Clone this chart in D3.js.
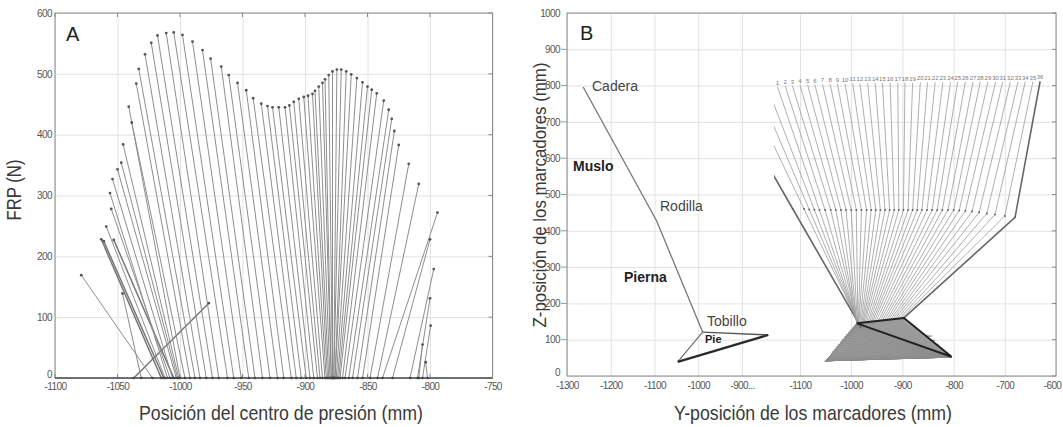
<!DOCTYPE html>
<html>
<head>
<meta charset="utf-8">
<script src="https://cdn.jsdelivr.net/npm/d3@7"></script>
<style>
  body { margin: 0; background: #fff; }
  text { font-family: 'Liberation Sans', Arial, sans-serif; }
  .tick text { font-size: 10px; fill: #555; letter-spacing: -0.6px; font-family: 'Liberation Sans', Arial, sans-serif; }
  .tick line { stroke: #e2e2e2; }
  .title { font-size: 21px; fill: #3a3a3a; }
  .frame { fill: none; stroke: #8a8a8a; stroke-width: 1; }
  .lbl { font-size: 14px; fill: #444; }
  .lbl-b { font-size: 14px; fill: #222; font-weight: bold; }
</style>
</head>
<body>
<script>
// ---- panel A : force vectors (centre of pressure -> FRP)
let copX = [-1037, -1022, -1015, -1013, -1012, -1005, -1008, -1010, -1006, -1003, -1002, -1001, -1031,
  -1000, -996, -992, -988, -984, -979, -974, -969, -962, -957, -951, -945, -940, -934, -928, -922, -917, -911,
  -907, -903, -899, -896, -893, -890, -888, -886, -884, -883, -882, -881, -880, -879, -879, -878, -878,
  -877, -877, -876, -876, -875, -874, -873, -872, -870, -868, -865, -862, -858, -854, -848, -842, -838,
  -830, -816, -810, -806, -809, -802]
let topX = [-977, -1079, -1063, -1061, -1059, -1053, -1055, -1056, -1054, -1050, -1047, -1045.5, -1046,
  -1041, -1038.6, -1035, -1033, -1028, -1023, -1018, -1011, -1005, -998, -990, -982, -975.5, -967, -961,
  -954, -947, -941.5, -935, -930, -926, -921, -916, -912.5, -909, -905, -901, -897.6, -894, -892, -889,
  -886, -884, -881, -878, -874.5, -871, -867, -863, -858.5, -854, -850, -846.6, -842.6, -837, -833,
  -830.6, -828.5, -825, -817, -809, -794, -800, -797, -800, -799.5, -806, -803.5]
let frp = [123, 169, 228, 225, 249, 227, 278, 304, 327, 343, 354, 384, 139, 446, 420, 484, 508, 532, 551,
  563, 567, 568, 564, 553, 539, 525, 512, 498, 485, 473, 460, 451, 447, 445, 445, 445, 448, 454, 459, 462,
  464, 467, 472, 479, 485, 491, 498, 504, 507, 507, 504, 499, 493, 486, 479, 474, 468, 456, 441, 426, 406,
  383, 352, 319, 272, 228, 179, 131, 86, 55, 26]

let aXTicks = [-1100, -1050, -1000, -950, -900, -850, -800, -750]
let aYTicks = [0, 100, 200, 300, 400, 500, 600]

// ---- panel B : reference stick figure (cadera, rodilla, tobillo) and foot
let stickY = [-1263, -1095, -990]
let stickZ = [796, 427, 121]
let footY = [-990, -840, -1047]
let footZ = [121, 113, 39]

// ---- panel B : leg frames over the stance phase
let hipY = [-1252, -1207, -1185, -1165, -1144, -1129, -1115, -1100, -1085, -1071, -1056, -1041, -1027,
  -1012, -997, -983, -968, -953, -939, -924, -909, -895, -880, -865, -851, -836, -821, -806, -792, -777,
  -762, -748, -733, -718, -704, -689, -674, -660, -645, -631]
let hipZ = [800, 800, 800, 800, 797, 799, 800, 801, 802, 803, 804, 804, 805, 805, 806, 806, 807, 807, 807,
  808, 808, 808, 808, 809, 809, 809, 809, 809, 810, 810, 810, 810, 810, 810, 811, 811, 811, 811, 811, 812]
let kneeY = [-1114, -1092, -1082, -1072, -1062, -1051, -1040, -1030, -1020, -1010, -1000, -990, -980, -970,
  -961, -952, -943, -934, -925, -916, -907, -898, -889, -880, -871, -862, -852, -842, -832, -822, -811,
  -800, -789, -777, -764, -750, -735, -719, -700, -680]
let kneeZ = [460, 460, 459, 458, 457, 457, 457, 457, 457, 457, 457, 457, 457, 457, 457, 457, 457, 457, 457,
  457, 457, 457, 457, 457, 457, 457, 457, 457, 457, 457, 457, 457, 456, 455, 453, 451, 448, 445, 441, 437]
let ankleY = [-980, -983, -985, -986, -987, -988, -988, -989, -989, -989, -988, -987, -986, -985, -983,
  -981, -979, -977, -975, -973, -970, -967, -964, -961, -958, -955, -951, -947, -943, -939, -935, -931,
  -927, -923, -919, -915, -911, -906, -902, -897]
let ankleZ = [132, 137, 140, 142, 143, 144, 145, 145, 145, 145, 145, 146, 146, 146, 147, 147, 147, 148, 148,
  148, 149, 149, 150, 150, 151, 151, 152, 152, 153, 153, 154, 154, 155, 155, 156, 157, 157, 158, 159, 160]
let heelY = [-1052, -1051, -1050, -1050, -1049, -1049, -1048, -1048, -1048, -1048, -1048, -1048, -1048,
  -1048, -1048, -1048, -1048, -1048, -1048, -1048, -1047, -1047, -1046, -1045, -1044, -1042, -1040, -1037,
  -1034, -1030, -1026, -1022, -1018, -1014, -1010, -1006, -1002, -998, -994, -989]
let heelZ = [40, 40, 41, 41, 41, 41, 42, 42, 42, 42, 42, 42, 42, 42, 42, 42, 42, 42, 42, 42, 43, 44, 46, 48,
  51, 55, 60, 66, 72, 79, 86, 93, 100, 107, 114, 120, 126, 132, 138, 145]
let toeY = [-842, -836, -829, -822, -816, -812, -810, -809, -808, -808, -807, -807, -807, -806, -806, -806,
  -806, -806, -806, -806, -805, -805, -805, -805, -805, -805, -805, -805, -805, -804, -804, -804, -804,
  -804, -804, -804, -804, -804, -804, -804]
let toeZ = [110, 98, 86, 75, 66, 60, 56, 54, 53, 52, 52, 52, 52, 52, 52, 52, 52, 52, 52, 52, 52, 52, 52, 52,
  52, 52, 52, 52, 52, 52, 53, 53, 53, 53, 53, 53, 53, 53, 53, 53]

let bZTicks = [0, 100, 200, 300, 400, 500, 600, 700, 800, 900, 1000]
let bLeftTicks = [-1300, -1200, -1100, -1000, -900]
let bLeftLabels = ['-1300', '-1200', '-1100', '-1000', '-900...']
let bRightTicks = [-1100, -1000, -900, -800, -700, -600]

let svg = d3.select('body').append('svg')
    .attr('width', 1063)
    .attr('height', 427)

//scales
let xA = d3.scaleLinear().domain([-1100, -750]).range([55, 492.5])
let yA = d3.scaleLinear().domain([0, 600]).range([378, 13])
let zB = d3.scaleLinear().domain([0, 1000]).range([376, 13])
let yBL = d3.scaleLinear().domain([-1300, -900]).range([567, 742])
let yBR = d3.scaleLinear().domain([-1100, -600]).range([800, 1056])

let fmt = d => String(d)

//grid + tick labels, matlab style
function styleAxis(g) {
  g.select('.domain').remove()
}
svg.append('g').attr('transform', 'translate(0,378)')
    .call(d3.axisBottom(xA).tickValues(aXTicks).tickSize(-365).tickPadding(5).tickFormat(fmt))
    .call(styleAxis)
svg.append('g').attr('class', 'ay').attr('transform', 'translate(55,0)')
    .call(d3.axisLeft(yA).tickValues(aYTicks).tickSize(-437.5).tickPadding(3).tickFormat(fmt))
    .call(styleAxis)

svg.append('g').attr('transform', 'translate(0,376)')
    .call(d3.axisBottom(yBL).tickValues(bLeftTicks).tickSize(-363).tickPadding(6)
      .tickFormat((d, i) => bLeftLabels[i]))
    .call(styleAxis)
svg.append('g').attr('class', 'bx').attr('transform', 'translate(0,376)')
    .call(d3.axisBottom(yBR).tickValues(bRightTicks).tickSize(-363).tickPadding(6).tickFormat(fmt))
    .call(styleAxis)
svg.append('g').attr('class', 'bz').attr('transform', 'translate(567,0)')
    .call(d3.axisLeft(zB).tickValues(bZTicks).tickSize(-489).tickPadding(7).tickFormat(fmt))
    .call(styleAxis)

svg.selectAll('.tick text').style('font-size', '10px').style('fill', '#555')
//"0" sits a little above the corner, last label kept inside the page
svg.selectAll('.ay .tick text').filter(d => d === 0).attr('dy', '-0.1em')
svg.selectAll('.bz .tick text').filter(d => d === 0).attr('dy', '-0.1em')
svg.selectAll('.bx .tick text').filter(d => d === -600).attr('x', -4)

//small outward ticks next to B's z labels
svg.append('g').selectAll('line').data(bZTicks.slice(1, -1)).enter().append('line')
    .attr('x1', 561).attr('x2', 567)
    .attr('y1', d => zB(d)).attr('y2', d => zB(d))
    .attr('stroke', '#999')

//inner tick marks on frames
let tickMarks = svg.append('g').attr('stroke', '#888')
aXTicks.forEach(d => {
  tickMarks.append('line').attr('x1', xA(d)).attr('x2', xA(d)).attr('y1', 13).attr('y2', 17)
  tickMarks.append('line').attr('x1', xA(d)).attr('x2', xA(d)).attr('y1', 378).attr('y2', 374)
})
aYTicks.forEach(d => {
  tickMarks.append('line').attr('x1', 492.5).attr('x2', 488.5).attr('y1', yA(d)).attr('y2', yA(d))
})
bZTicks.forEach(d => {
  tickMarks.append('line').attr('x1', 1056).attr('x2', 1052).attr('y1', zB(d)).attr('y2', zB(d))
})

//frames
svg.append('rect').attr('class', 'frame').attr('x', 55).attr('y', 13).attr('width', 437.5).attr('height', 365)
svg.append('rect').attr('class', 'frame').attr('x', 567).attr('y', 13).attr('width', 489).attr('height', 363)
svg.append('line').attr('x1', 55).attr('x2', 492.5).attr('y1', 378).attr('y2', 378)
    .attr('stroke', '#555').attr('stroke-width', 1.5)

//panel A vectors
let forces = topX.map((d, i) => ({ x0: copX[i], x1: d, f: frp[i], i: i }))
let gA = svg.append('g')
gA.selectAll('line').data(forces).enter().append('line')
    .attr('x1', d => xA(d.x0)).attr('y1', yA(0))
    .attr('x2', d => xA(d.x1)).attr('y2', d => yA(d.f))
    .attr('stroke', d => [0, 2, 3, 5].includes(d.i) ? '#777' : '#8e8e8e')
    .attr('stroke-width', d => [0, 2, 3, 5].includes(d.i) ? 1.5 : 1)
gA.selectAll('circle.top').data(forces).enter().append('circle')
    .attr('class', 'top')
    .attr('cx', d => xA(d.x1)).attr('cy', d => yA(d.f)).attr('r', 1.4)
    .attr('fill', '#555')
gA.selectAll('circle.bot').data(forces).enter().append('circle')
    .attr('class', 'bot')
    .attr('cx', d => xA(d.x0)).attr('cy', yA(0)).attr('r', 1.3)
    .attr('fill', '#444')

//panel B : left stick figure
let lineL = d3.line().x(d => yBL(d[0])).y(d => zB(d[1]))
svg.append('path')
    .attr('d', lineL(stickY.map((d, i) => [d, stickZ[i]])))
    .attr('fill', 'none').attr('stroke', '#777').attr('stroke-width', 1.3)
let foot = footY.map((d, i) => [d, footZ[i]])
svg.append('path').attr('d', lineL([foot[0], foot[1]])).attr('stroke', '#555').attr('stroke-width', 1.4)
svg.append('path').attr('d', lineL([foot[0], foot[2]])).attr('stroke', '#666').attr('stroke-width', 1.1)
svg.append('path').attr('d', lineL([foot[2], foot[1]])).attr('stroke', '#2a2a2a').attr('stroke-width', 2.2)

//panel B : leg frames, clipped to their own sub-axis
svg.append('clipPath').attr('id', 'clipR')
    .append('rect').attr('x', 774).attr('y', 13).attr('width', 282).attr('height', 363)
let gB = svg.append('g').attr('clip-path', 'url(#clipR)')
let lineR = d3.line().x(d => yBR(d[0])).y(d => zB(d[1]))
let frames = hipY.map((d, i) => ({
  i: i,
  leg: [[d, hipZ[i]], [kneeY[i], kneeZ[i]], [ankleY[i], ankleZ[i]]],
  foot: [[ankleY[i], ankleZ[i]], [heelY[i], heelZ[i]], [toeY[i], toeZ[i]]]
}))
let last = frames.length - 1

gB.selectAll('path.foot').data(frames).enter().append('path')
    .attr('class', 'foot')
    .attr('d', d => lineR(d.foot) + 'Z')
    .attr('fill', '#9a9a9a').attr('fill-opacity', 0.7)
    .attr('stroke', '#8a8a8a').attr('stroke-width', 0.6)

gB.selectAll('path.leg').data(frames).enter().append('path')
    .attr('class', 'leg')
    .attr('d', d => lineR(d.leg))
    .attr('fill', 'none')
    .attr('stroke', d => d.i === 0 || d.i === last ? '#666' : '#9a9a9a')
    .attr('stroke-width', d => d.i === 0 || d.i === last ? 1.6 : 0.8)

gB.selectAll('circle.knee').data(frames).enter().append('circle')
    .attr('class', 'knee')
    .attr('cx', d => yBR(d.leg[1][0])).attr('cy', d => zB(d.leg[1][1])).attr('r', 1)
    .attr('fill', '#666')

gB.append('path')
    .attr('d', lineR(frames[last].foot) + 'Z')
    .attr('fill', 'none').attr('stroke', '#222').attr('stroke-width', 2)

//frame numbers above hips
gB.selectAll('text.num').data(frames.slice(4)).enter().append('text')
    .attr('class', 'num')
    .attr('x', d => yBR(d.leg[0][0]))
    .attr('y', d => zB(d.leg[0][1]) - 2)
    .attr('text-anchor', 'middle')
    .style('font-size', '6px').style('fill', '#777')
    .text(d => d.i - 3)

//labels
svg.append('text').attr('x', 592).attr('y', 91).attr('class', 'lbl').text('Cadera')
svg.append('text').attr('x', 573).attr('y', 171).attr('class', 'lbl-b').text('Muslo')
svg.append('text').attr('x', 660).attr('y', 211).attr('class', 'lbl').text('Rodilla')
svg.append('text').attr('x', 624).attr('y', 282).attr('class', 'lbl-b').text('Pierna')
svg.append('text').attr('x', 707).attr('y', 326).attr('class', 'lbl').text('Tobillo')
svg.append('text').attr('x', 705).attr('y', 343).attr('class', 'lbl-b').style('font-size', '11px').text('Pie')

svg.append('text').attr('x', 66).attr('y', 41).style('font-size', '20px').style('fill', '#222').text('A')
svg.append('text').attr('x', 580).attr('y', 40).style('font-size', '20px').style('fill', '#222').text('B')

//axis titles
function title(x, y, len, txt, rot, size) {
  svg.append('text').attr('class', 'title')
      .attr('transform', 'translate(' + x + ',' + y + ')' + (rot ? ' rotate(-90)' : ''))
      .attr('text-anchor', 'middle')
      .attr('textLength', len).attr('lengthAdjust', 'spacingAndGlyphs')
      .style('font-size', (size || 21) + 'px')
      .text(txt)
}
title(281, 420, 284, 'Posición del centro de presión (mm)')
title(813, 420, 278, 'Y-posición de los marcadores (mm)')
title(21, 190, 61, 'FRP (N)', true)
title(546, 195, 265, 'Z-posición de los marcadores (mm)', true, 19)
</script>
</body>
</html>
